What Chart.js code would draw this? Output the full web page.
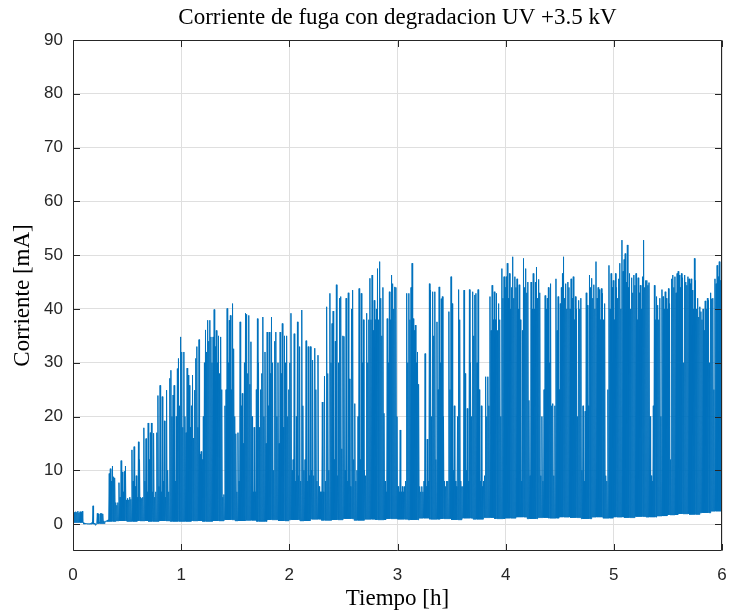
<!DOCTYPE html>
<html><head><meta charset="utf-8">
<script src="https://cdn.jsdelivr.net/npm/chart.js"></script>
<style>html,body{margin:0;padding:0;background:#fff;}canvas{display:block;}</style>
</head><body>
<canvas id="c" width="729" height="611"></canvas>
<script>
const TITLE = 'Corriente de fuga con degradacion UV +3.5 kV';
const X_LABEL = 'Tiempo [h]';
const Y_LABEL = 'Corriente [mA]';
const xTicks = [0, 1, 2, 3, 4, 5, 6];
const yTicks = [0, 10, 20, 30, 40, 50, 60, 70, 80, 90];
const sampleStep = 0.01;          // hours between peak samples
const floorBlock = 10;            // peak samples per floor value

// Peak current of each 0.01 h sample [mA], 10 per row = 0.1 h
const peakCurrent = [
  2.4,2.2,2.3,2.2,2.4,2.1,2.3,2.2,2.4,0.3,
  0.2,0.1,0.1,0.1,0.1,0.1,0.2,0.3,3.4,0.2,
  -0.2,0.0,2.0,1.9,0.4,2.0,2.0,1.9,0.6,0.5,
  0.6,0.7,0.8,9.4,10.3,8.0,10.8,8.8,8.6,4.0,
  3.5,4.0,7.7,5.0,11.8,9.7,6.0,9.8,10.8,4.5,
  4.8,4.5,5.0,4.6,13.8,8.0,14.4,7.0,9.0,5.0,
  15.3,12.0,5.0,4.8,5.0,17.9,8.0,15.9,6.0,18.8,
  12.0,17.0,18.8,6.0,16.9,5.0,6.0,17.0,23.9,7.0,
  25.8,6.0,23.7,8.0,19.2,5.0,24.9,10.0,6.0,27.1,
  28.6,20.0,24.0,25.8,8.0,20.0,28.9,30.8,22.0,34.8,
  32.0,18.0,32.0,20.0,17.0,29.0,27.7,25.8,18.0,22.0,
  27.7,16.0,24.9,30.8,33.0,18.0,34.3,13.0,13.5,12.0,
  20.0,30.0,36.1,32.0,37.9,34.0,37.9,34.8,30.0,34.8,
  39.9,33.0,36.0,30.0,35.0,28.0,34.8,25.0,5.0,5.5,
  22.0,25.0,40.1,30.0,37.9,38.8,25.0,41.0,32.6,20.0,
  16.8,6.0,17.0,8.0,37.6,22.0,24.3,15.0,30.0,39.2,
  39.0,28.0,38.8,26.0,33.9,20.0,6.0,18.0,6.0,25.0,
  38.2,30.0,18.0,25.0,28.0,38.5,20.0,32.0,15.0,35.7,
  22.0,35.7,28.0,38.5,30.0,10.0,34.0,35.7,20.0,30.0,
  15.0,35.7,28.0,37.3,18.0,35.0,30.0,35.0,20.0,25.0,
  30.0,39.2,10.0,12.0,35.4,8.0,20.0,37.6,9.0,33.0,
  8.0,39.8,22.0,10.0,12.0,34.1,8.0,33.0,9.0,33.0,
  10.0,30.5,9.0,32.7,25.0,8.0,31.4,7.0,6.0,6.0,
  22.7,6.0,27.5,8.0,40.4,28.0,10.0,42.9,30.0,37.3,
  39.6,12.0,34.0,44.5,9.0,30.0,42.0,42.3,14.0,35.0,
  34.9,10.0,42.0,8.0,43.0,27.0,7.0,40.0,43.5,12.0,
  22.4,8.0,10.0,20.0,43.8,12.0,42.9,30.0,38.0,10.0,
  9.0,39.2,30.0,38.0,45.7,38.0,46.3,36.0,41.6,38.0,
  40.0,47.5,38.0,48.8,42.0,35.0,44.0,20.6,8.0,6.0,
  38.2,30.0,43.2,38.0,46.3,44.7,40.0,44.1,44.0,20.0,
  7.0,6.0,17.5,6.0,7.0,6.0,7.0,8.0,42.9,30.0,
  42.9,38.0,44.0,48.5,38.2,36.0,37.0,30.0,32.0,26.0,
  7.0,6.0,7.0,6.0,8.0,31.7,7.0,15.8,8.0,44.7,
  43.5,20.0,43.2,35.0,43.2,12.0,37.6,25.0,44.1,30.0,
  41.9,42.3,20.0,8.0,7.0,8.0,8.0,39.5,25.0,46.0,
  41.0,10.0,22.0,8.0,7.0,20.0,43.6,38.0,8.0,7.0,
  7.0,43.5,28.0,10.0,21.5,8.0,43.6,30.0,20.0,43.2,
  35.0,42.6,42.9,30.0,43.6,25.0,8.0,22.0,7.0,8.0,
  9.0,27.4,20.0,27.4,22.0,42.3,36.0,44.4,38.0,43.2,
  38.0,42.9,36.0,41.0,38.0,20.0,47.5,42.0,46.0,44.0,
  46.0,48.5,42.0,46.6,40.0,44.0,49.7,42.0,46.0,44.0,
  45.6,40.0,44.5,38.0,8.0,36.0,49.4,44.0,47.5,43.0,
  45.0,23.0,9.0,45.0,40.0,46.6,40.0,45.0,47.8,42.0,
  45.5,43.0,9.0,20.0,8.0,25.0,42.5,40.0,42.0,44.0,
  30.0,44.7,22.0,22.4,9.0,22.0,45.6,36.0,42.3,25.0,
  41.0,44.0,46.6,49.7,42.0,44.7,40.0,45.0,44.0,40.0,
  45.6,42.0,46.0,38.0,42.3,40.0,20.0,41.6,40.0,42.0,
  10.0,22.0,8.0,21.0,43.0,40.7,22.0,46.3,44.0,45.7,
  42.0,44.5,40.0,48.8,42.0,44.0,43.6,38.0,43.8,42.9,
  38.0,41.0,9.0,8.0,25.0,48.1,40.0,46.6,44.0,45.3,
  38.0,46.6,44.0,42.0,45.6,48.5,40.0,52.8,47.0,49.2,
  50.3,45.0,51.9,44.0,46.6,40.0,45.8,43.0,46.3,44.4,
  46.6,38.0,45.8,43.0,44.4,40.0,46.0,52.8,44.0,45.3,
  45.3,44.4,44.9,20.0,9.0,8.0,22.0,44.4,38.0,42.3,
  40.7,38.0,42.0,20.0,43.6,42.3,40.0,43.2,42.0,40.0,
  43.8,41.0,12.0,45.6,46.3,44.0,46.0,43.0,46.6,47.0,
  46.3,44.0,46.6,45.8,30.0,46.3,45.0,44.4,46.0,45.6,
  44.7,45.6,43.5,40.0,49.4,45.3,40.0,42.0,38.5,40.4,
  39.5,38.0,40.0,36.0,41.5,40.0,42.0,41.6,30.0,43.0,
  41.9,42.0,25.0,45.6,44.7,48.1,46.0,48.8,45.3,44.7
];

// Floor (lower edge of the noise band) for each 0.1 h block [mA]
const floorCurrent = [
  0.3,0.0,0.1,0.5,0.6,0.5,0.6,0.5,0.6,0.5,
  0.5,0.6,0.5,0.6,0.8,0.6,0.7,0.5,0.8,0.6,
  0.8,0.6,0.9,0.7,0.8,1.0,0.7,0.9,0.8,1.0,
  0.9,0.8,1.1,0.9,1.0,0.8,1.1,0.9,1.2,1.0,
  1.1,1.3,1.0,1.2,1.1,1.3,1.2,1.0,1.3,1.1,
  1.3,1.2,1.4,1.3,1.5,1.7,1.9,1.8,2.1,2.4
];

// Build the signal: floor then peak for every sample
const signal = [];
for (let i = 0; i < peakCurrent.length; i++) {
  const t0 = i * sampleStep;
  signal.push({x: t0, y: floorCurrent[Math.floor(i / floorBlock)]});
  signal.push({x: t0 + sampleStep / 2, y: peakCurrent[i]});
}
signal.push({x: peakCurrent.length * sampleStep, y: floorCurrent[floorCurrent.length - 1]});

const AXIS_COLOR = '#262626';
const SERIF = '"Liberation Serif", "Times New Roman", serif';
const SANS = '"Liberation Sans", Arial, Helvetica, sans-serif';

const boxPlugin = {
  id: 'matlabBox',
  afterDatasetsDraw(chart) {
    const {ctx, chartArea: a, scales: {x, y}} = chart;
    const L = Math.round(a.left) + 0.5, R = Math.round(a.right) - 0.5;
    const T = Math.round(a.top) + 0.5, B = Math.round(a.bottom) - 0.5;
    const tl = 6.5;
    ctx.save();
    ctx.strokeStyle = AXIS_COLOR;
    ctx.lineWidth = 1;
    ctx.beginPath();
    ctx.rect(L, T, R - L, B - T);
    xTicks.forEach(v => {
      const px = Math.round(x.getPixelForValue(v)) + 0.5;
      ctx.moveTo(px, B); ctx.lineTo(px, B - tl);
      ctx.moveTo(px, T); ctx.lineTo(px, T + tl);
    });
    yTicks.forEach(v => {
      const py = Math.round(y.getPixelForValue(v)) + 0.5;
      ctx.moveTo(L, py); ctx.lineTo(L + tl, py);
      ctx.moveTo(R, py); ctx.lineTo(R - tl, py);
    });
    ctx.stroke();
    ctx.restore();
  }
};

new Chart(document.getElementById('c'), {
  type: 'line',
  data: {
    datasets: [{
      data: signal,
      borderColor: '#0072BD',
      borderWidth: 1,
      pointRadius: 0,
      tension: 0,
      fill: false,
      borderJoinStyle: 'bevel'
    }]
  },
  options: {
    responsive: false,
    animation: false,
    parsing: false,
    normalized: true,
    events: [],
    layout: {padding: {left: 0, right: 7, top: 0, bottom: 0}},
    plugins: {
      legend: {display: false},
      tooltip: {enabled: false},
      title: {
        display: true, text: TITLE, color: '#000', fullSize: false,
        font: {family: SERIF, size: 23, weight: 'normal', lineHeight: 1.2},
        padding: {top: 4.5, bottom: 7.9}
      }
    },
    scales: {
      x: {
        type: 'linear', min: 0, max: 6,
        afterBuildTicks: s => { s.ticks = xTicks.map(v => ({value: v})); },
        afterFit: s => { s.height = 60; s.paddingLeft = 0; s.paddingRight = 0; },
        grid: {color: '#dfdfdf', drawTicks: false, lineWidth: 1},
        border: {display: false},
        ticks: {color: AXIS_COLOR, font: {family: SANS, size: 17}, padding: 14, maxRotation: 0, autoSkip: false},
        title: {display: true, text: X_LABEL, color: '#000', font: {family: SERIF, size: 23, weight: 'normal', lineHeight: 1.2}, padding: {top: 0, bottom: -2}}
      },
      y: {
        type: 'linear', min: -5, max: 90,
        afterBuildTicks: s => { s.ticks = yTicks.map(v => ({value: v})); },
        afterFit: s => { s.width = 73; s.paddingTop = 0; s.paddingBottom = 0; },
        grid: {color: '#dfdfdf', drawTicks: false, lineWidth: 1},
        border: {display: false},
        ticks: {color: AXIS_COLOR, font: {family: SANS, size: 17}, padding: 10, autoSkip: false},
        title: {display: true, text: Y_LABEL, color: '#000', font: {family: SERIF, size: 23, weight: 'normal', lineHeight: 1.2}, padding: {top: 9, bottom: 0}}
      }
    }
  },
  plugins: [boxPlugin]
});
</script>
</body></html>
